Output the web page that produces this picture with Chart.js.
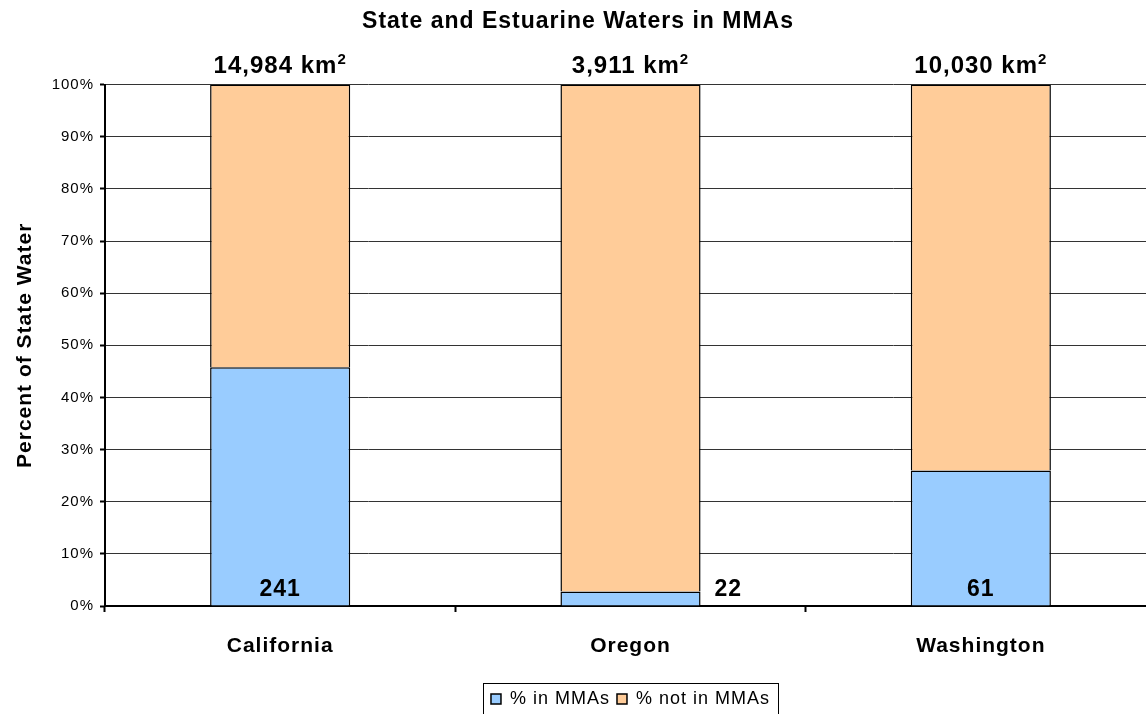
<!DOCTYPE html>
<html>
<head>
<meta charset="utf-8">
<script src="https://cdn.jsdelivr.net/npm/chart.js@4/dist/chart.umd.min.js"></script>
<style>
  html, body { margin: 0; padding: 0; background: #fff; overflow: hidden; }
</style>
</head>
<body>
<canvas id="mma-chart" width="1156" height="718"></canvas>
<script>
// data
const states = ['California', 'Oregon', 'Washington'];
const pctInMMAs = [45.8, 2.8, 26.0];
const pctNotInMMAs = [54.2, 97.2, 74.0];
const mmaCounts = [241, 22, 61];
const stateAreas = ['14,984', '3,911', '10,030'];
const yTicks = [0, 10, 20, 30, 40, 50, 60, 70, 80, 90, 100];

Chart.defaults.font.family = "'Liberation Sans', Arial, sans-serif";
Chart.defaults.color = '#000';

// the original text is a bit wider than plain Arial
const spacing = {
  id: 'spacing',
  beforeLayout(chart) { chart.ctx.letterSpacing = '1px'; },
  beforeDraw(chart) { chart.ctx.letterSpacing = '1px'; }
};

const barLabels = {
  id: 'barLabels',
  afterDatasetsDraw(chart) {
    const { ctx, scales: { y } } = chart;
    const meta = chart.getDatasetMeta(0);
    ctx.save();
    ctx.fillStyle = '#000';
    ctx.textBaseline = 'alphabetic';
    meta.data.forEach((bar, i) => {
      // total area above the bar, with a superscript 2
      const top = y.getPixelForValue(100) - 12;
      ctx.font = "bold 24px 'Liberation Sans', Arial";
      const main = stateAreas[i] + ' km';
      const w1 = ctx.measureText(main).width;
      ctx.font = "bold 15px 'Liberation Sans', Arial";
      const w2 = ctx.measureText('2').width;
      const start = bar.x - (w1 + w2) / 2;
      ctx.textAlign = 'left';
      ctx.font = "bold 24px 'Liberation Sans', Arial";
      ctx.fillText(main, start, top);
      ctx.font = "bold 15px 'Liberation Sans', Arial";
      ctx.fillText('2', start + w1, top - 9);

      // number of MMAs at the foot of the bar
      ctx.font = "bold 23px 'Liberation Sans', Arial";
      const base = y.getPixelForValue(0) - 10;
      if (bar.base - bar.y < 30) {
        ctx.textAlign = 'left';
        ctx.fillText(String(mmaCounts[i]), bar.x + bar.width / 2 + 14, base);
      } else {
        ctx.textAlign = 'center';
        ctx.fillText(String(mmaCounts[i]), bar.x, base);
      }
    });
    ctx.restore();
  },
  afterDraw(chart) {
    // box round the legend
    const boxes = chart.legend.legendHitBoxes;
    if (!boxes || !boxes.length) return;
    const { ctx } = chart;
    const left = Math.min(...boxes.map(b => b.left)) - 8;
    const right = Math.max(...boxes.map(b => b.left + b.width)) + 8;
    const top = boxes[0].top - 7;
    ctx.save();
    ctx.strokeStyle = '#000';
    ctx.lineWidth = 1;
    ctx.strokeRect(Math.round(left) + 0.5, Math.round(top) + 0.5, Math.round(right - left), chart.height);
    ctx.restore();
  }
};

new Chart(document.getElementById('mma-chart'), {
  type: 'bar',
  data: {
    labels: states,
    datasets: [
      {
        label: '% in MMAs',
        data: pctInMMAs,
        backgroundColor: '#99CCFF',
        borderColor: '#000',
        borderWidth: 1.5
      },
      {
        label: '% not in MMAs',
        data: pctNotInMMAs,
        backgroundColor: '#FFCC99',
        borderColor: '#000',
        borderWidth: 1.5
      }
    ]
  },
  options: {
    responsive: false,
    animation: false,
    events: [],
    layout: { padding: { left: 0, right: 0, top: 0, bottom: 0 } },
    datasets: {
      bar: { barPercentage: 0.4, categoryPercentage: 1 }
    },
    scales: {
      x: {
        stacked: true,
        grid: {
          offset: true,
          drawOnChartArea: false,
          tickLength: 6,
          tickWidth: 2,
          color: '#000'
        },
        border: { color: '#000', width: 2 },
        ticks: {
          font: { size: 21, weight: 'bold' },
          padding: 22
        },
        afterFit(scale) { scale.height = 77; }
      },
      y: {
        stacked: true,
        min: 0,
        max: 100,
        afterBuildTicks(scale) { scale.ticks = yTicks.map(v => ({ value: v })); },
        grid: {
          color: '#333',
          tickColor: '#000',
          tickLength: 5,
          tickWidth: 2
        },
        border: { color: '#000', width: 2 },
        ticks: {
          font: { size: 15 },
          padding: 6,
          callback: v => v + '%'
        },
        title: {
          display: true,
          text: 'Percent of State Water',
          font: { size: 21, weight: 'bold' },
          padding: { top: 13, bottom: 0 }
        },
        afterFit(scale) { scale.width = 105; }
      }
    },
    plugins: {
      title: {
        display: true,
        text: 'State and Estuarine Waters in MMAs',
        font: { size: 23, weight: 'bold' },
        padding: { top: 8, bottom: 49 }
      },
      legend: {
        position: 'bottom',
        fullSize: false,
        labels: {
          boxWidth: 10,
          boxHeight: 10,
          padding: 7,
          font: { size: 18 }
        }
      },
      tooltip: { enabled: false }
    }
  },
  plugins: [spacing, barLabels]
});
</script>
</body>
</html>
